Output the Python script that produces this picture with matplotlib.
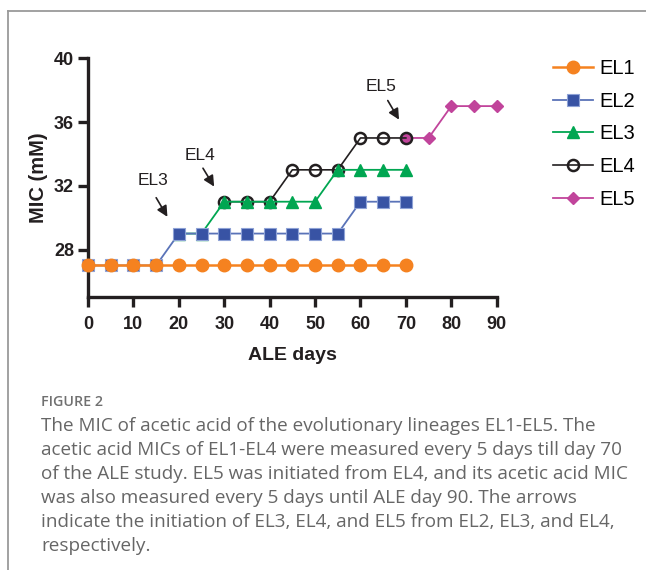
import matplotlib
matplotlib.use("Agg")
import matplotlib.pyplot as plt
from matplotlib.lines import Line2D

# ---- data ----
days_1_4 = [0, 5, 10, 15, 20, 25, 30, 35, 40, 45, 50, 55, 60, 65, 70]
el1 = [27] * 15
el2 = [27, 27, 27, 27, 29, 29, 29, 29, 29, 29, 29, 29, 31, 31, 31]
days_el3 = [20, 25, 30, 35, 40, 45, 50, 55, 60, 65, 70]
el3 = [29, 29, 31, 31, 31, 31, 31, 33, 33, 33, 33]
days_el4 = [30, 35, 40, 45, 50, 55, 60, 65, 70]
el4 = [31, 31, 31, 33, 33, 33, 35, 35, 35]
days_el5 = [70, 75, 80, 85, 90]
el5 = [35, 35, 37, 37, 37]

x_ticks = [0, 10, 20, 30, 40, 50, 60, 70, 80, 90]
y_ticks = [28, 32, 36, 40]
labels = ["EL1", "EL2", "EL3", "EL4", "EL5"]

caption_title = "FIGURE 2"
caption_lines = [
    "The MIC of acetic acid of the evolutionary lineages EL1-EL5. The",
    "acetic acid MICs of EL1-EL4 were measured every 5 days till day 70",
    "of the ALE study. EL5 was initiated from EL4, and its acetic acid MIC",
    "was also measured every 5 days until ALE day 90. The arrows",
    "indicate the initiation of EL3, EL4, and EL5 from EL2, EL3, and EL4,",
    "respectively.",
]

plt.rcParams['font.family'] = ['Liberation Sans', 'DejaVu Sans']

fig = plt.figure(figsize=(6.46, 5.70), dpi=100)
ax = fig.add_axes([88/646, 1 - 297.3/570, (497-88.3)/646, (297.3-58.3)/570])

c1, c2, c3, c4, c5 = "#f58220", "#3853a4", "#00a651", "#231f20", "#c1449b"

ax.plot(days_el5, el5, color=c5, lw=1.3, marker="D", ms=6.5, mfc=c5, mec=c5,
        zorder=2, clip_on=False, label=labels[4])
ax.plot(days_el4, el4, color=c4, lw=1.2, marker="o", ms=8, mfc="none", mec=c4,
        mew=1.8, zorder=3, clip_on=False, label=labels[3])
ax.plot(days_el3, el3, color=c3, lw=1.3, marker="^", ms=8, mfc=c3, mec=c3,
        zorder=4, clip_on=False, label=labels[2])
ax.plot(days_1_4, el2, color="#5a73b8", lw=1.3, marker="s", ms=8, mfc=c2, mec="#8ea2d6",
        mew=0.8, zorder=5, clip_on=False, label=labels[1])
ax.plot(days_1_4, el1, color=c1, lw=1.8, marker="o", ms=9, mfc=c1, mec=c1,
        zorder=6, clip_on=False, label=labels[0])

ax.set_xlim(0, 90)
ax.set_ylim(25, 40)
ax.set_xticks(x_ticks)
ax.set_yticks(y_ticks)
for s in ["top", "right"]:
    ax.spines[s].set_visible(False)
for s in ["left", "bottom"]:
    ax.spines[s].set_linewidth(2.4)
    ax.spines[s].set_color("#231f20")
ax.tick_params(axis="both", width=2.4, length=7, color="#231f20", labelsize=13)
ax.tick_params(axis="x", pad=6.5)
ax.tick_params(axis="y", pad=3)
for t in ax.get_xticklabels() + ax.get_yticklabels():
    t.set_fontweight("bold")
    t.set_color("#231f20")
ax.set_xlabel("ALE days", fontsize=14, fontweight="bold", labelpad=10, color="#231f20")
ax.set_ylabel("MIC (mM)", fontsize=14.5, fontweight="bold", labelpad=4, color="#231f20")

arrow = dict(arrowstyle="-|>", color="#231f20", lw=1.2, mutation_scale=16)
ax.annotate("", xy=(17.8, 29.9), xytext=(14.7, 31.4), arrowprops=arrow)
ax.annotate("", xy=(28.1, 31.8), xytext=(25.0, 33.25), arrowprops=arrow)
ax.annotate("", xy=(68.8, 36.0), xytext=(65.7, 37.5), arrowprops=arrow)
ax.text(14.3, 32.3, "EL3", ha="center", va="center", fontsize=12.5, color="#231f20")
ax.text(24.75, 33.9, "EL4", ha="center", va="center", fontsize=12.5, color="#231f20")
ax.text(64.6, 38.2, "EL5", ha="center", va="center", fontsize=12.5, color="#231f20")

handles, labs = ax.get_legend_handles_labels()
order = [4, 3, 2, 1, 0]
leg = fig.legend([handles[i] for i in order], [labs[i] for i in order],
                 loc="upper left", bbox_to_anchor=(553/646, 1 - 59/570),
                 frameon=False, fontsize=14.5, handlelength=2.0, handletextpad=0.3,
                 labelspacing=0.68, borderaxespad=0, borderpad=0)

# frame lines (top and left)
fig.add_artist(Line2D([8/646, 1], [1 - 10.5/570, 1 - 10.5/570], color="#9a9a9a", lw=1.3,
                      transform=fig.transFigure))
fig.add_artist(Line2D([8.3/646, 8.3/646], [1 - 10.5/570, 0], color="#9a9a9a", lw=1.3,
                      transform=fig.transFigure))

cap_font = ['Open Sans', 'DejaVu Sans']
renderer = fig.canvas.get_renderer()

def fitted_size(txt, base, target_px, **kw):
    t = fig.text(0, 0, txt, fontsize=base, family=cap_font, **kw)
    w = t.get_window_extent(renderer).width
    t.remove()
    return base * target_px / w

title_size = fitted_size(caption_title, 10, 62, fontweight="semibold")
body_size = fitted_size(caption_lines[1], 12, 580)

fig.text(41/646, 1 - 402/570, caption_title, fontsize=title_size, color="#707070",
         family=cap_font, fontweight="semibold", va="center", ha="left")
for i, line in enumerate(caption_lines):
    fig.text(41/646, 1 - (426 + 24*i)/570, line, fontsize=body_size, color="#666666",
             family=cap_font, va="center", ha="left")

fig.savefig("out.png", dpi=100)
